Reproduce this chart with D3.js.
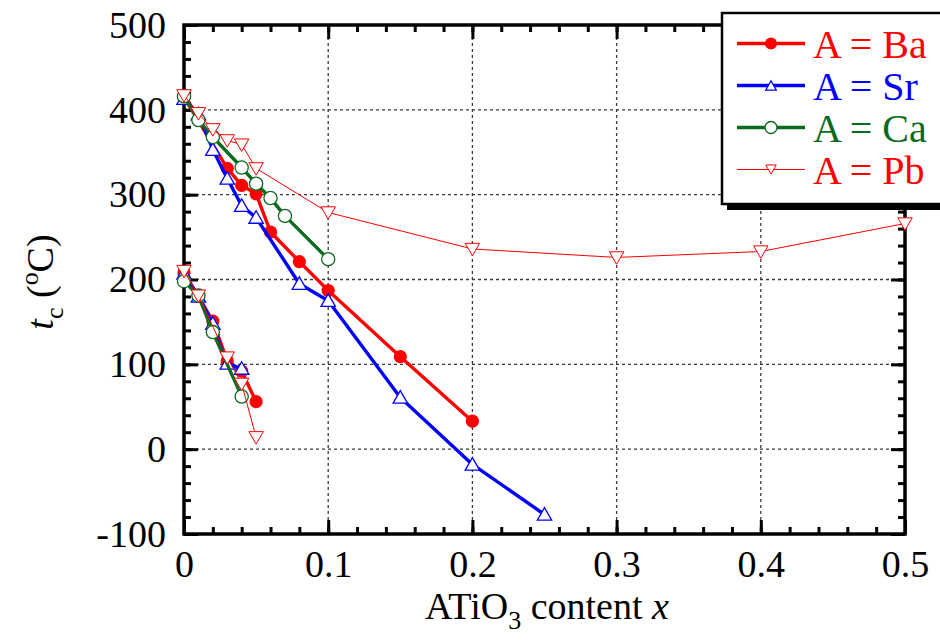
<!DOCTYPE html>
<html>
<head>
<meta charset="utf-8">
<script src="https://cdn.jsdelivr.net/npm/d3@7/dist/d3.min.js"></script>
<style>
  body { margin: 0; background: #fff; }
  svg { display: block; }
  svg text { font-family: "Liberation Serif", "Tinos", "DejaVu Serif", serif !important; }
</style>
</head>
<body>
<svg id="chart" width="940" height="643"></svg>
<script>
// Axis ticks
const xMajor = [0, 0.1, 0.2, 0.3, 0.4, 0.5];
const yMajor = [-100, 0, 100, 200, 300, 400, 500];
const xGrid = [0.1, 0.2, 0.3, 0.4];
const yGrid = [0, 100, 200, 300, 400];

// Series names (legend order)
const seriesNames = ["A = Ba", "A = Sr", "A = Ca", "A = Pb"];

// Curie temperature t_c (°C) vs ATiO3 content x, two branches per substituent
const baHigh = [[0, 415], [0.03, 331], [0.04, 311], [0.05, 301], [0.06, 256], [0.08, 221], [0.1, 187], [0.15, 109], [0.2, 33]];
const baLow  = [[0, 208], [0.01, 180], [0.02, 151], [0.03, 104], [0.04, 92], [0.05, 56]];

const srHigh = [[0, 413], [0.01, 395], [0.02, 353], [0.03, 319], [0.04, 287], [0.05, 273], [0.08, 195], [0.1, 175], [0.15, 61], [0.2, -18], [0.25, -77]];
const srLow  = [[0, 207], [0.01, 180], [0.02, 148], [0.03, 101], [0.04, 95]];

const caHigh = [[0, 416], [0.01, 388], [0.02, 368], [0.04, 332], [0.05, 313], [0.06, 296], [0.07, 275], [0.1, 224]];
const caLow  = [[0, 198], [0.01, 181], [0.02, 138], [0.04, 62]];

const pbHigh = [[0, 417], [0.01, 396], [0.02, 377], [0.03, 364], [0.04, 359], [0.05, 331], [0.1, 279], [0.2, 236], [0.3, 226], [0.4, 233], [0.5, 266]];
const pbLow  = [[0, 210], [0.01, 181], [0.03, 108], [0.04, 77], [0.05, 14]];

const RED = "#ff0000", BLUE = "#0000ff", GREEN = "#0a6a1e";

const series = [
  { name: seriesNames[0], branches: [baHigh, baLow], color: RED,   width: 3.4, marker: "dot" },
  { name: seriesNames[1], branches: [srHigh, srLow], color: BLUE,  width: 3.4, marker: "tri" },
  { name: seriesNames[2], branches: [caHigh, caLow], color: GREEN, width: 3.4, marker: "ring" },
  { name: seriesNames[3], branches: [pbHigh, pbLow], color: RED,   width: 1,   marker: "dtri" }
];

const svg = d3.select("#chart");
const L = 184, R = 905, T = 25, B = 534;
const x = d3.scaleLinear().domain([0, 0.5]).range([L, R]);
const y = d3.scaleLinear().domain([-100, 500]).range([B, T]);

// dashed grid
const grid = svg.append("g");
grid.selectAll(".gx").data(xGrid).join("line")
  .attr("x1", d => x(d)).attr("x2", d => x(d))
  .attr("y1", T).attr("y2", B)
  .attr("stroke", "#3a3a3a").attr("stroke-width", 1.3).attr("stroke-dasharray", "3,3");
grid.selectAll(".gy").data(yGrid).join("line")
  .attr("x1", L).attr("x2", R)
  .attr("y1", d => y(d)).attr("y2", d => y(d))
  .attr("stroke", "#3a3a3a").attr("stroke-width", 1.3).attr("stroke-dasharray", "3,3");

// axes with inward ticks on all four sides
const xMinor = d3.range(0, 0.5001, 0.02).map(v => +v.toFixed(2));
const yMinor = d3.range(-100, 500.1, 20);
const tickStyle = g => {
  g.select(".domain").remove();
  g.attr("font-family", null);
  g.selectAll(".tick line").attr("stroke", "#000").attr("stroke-width", 3);
  g.selectAll("text").attr("font-size", 38).attr("fill", "#000");
};

svg.append("g").attr("transform", `translate(0,${B})`)
  .call(d3.axisBottom(x).tickValues(xMinor).tickSize(-7).tickFormat(""))
  .call(tickStyle);
svg.append("g").attr("transform", `translate(0,${B})`)
  .call(d3.axisBottom(x).tickValues(xMajor).tickSize(-14).tickPadding(16).tickFormat(d => d === 0 ? "0" : d.toFixed(1)))
  .call(tickStyle);
svg.append("g").attr("transform", `translate(0,${T})`)
  .call(d3.axisTop(x).tickValues(xMinor).tickSize(-7).tickFormat(""))
  .call(tickStyle);
svg.append("g").attr("transform", `translate(0,${T})`)
  .call(d3.axisTop(x).tickValues(xMajor).tickSize(-14).tickFormat(""))
  .call(tickStyle);
svg.append("g").attr("transform", `translate(${L},0)`)
  .call(d3.axisLeft(y).tickValues(yMinor).tickSize(-7).tickFormat(""))
  .call(tickStyle);
svg.append("g").attr("transform", `translate(${L},0)`)
  .call(d3.axisLeft(y).tickValues(yMajor).tickSize(-14).tickPadding(18).tickFormat(d => String(d)))
  .call(tickStyle);
svg.append("g").attr("transform", `translate(${R},0)`)
  .call(d3.axisRight(y).tickValues(yMinor).tickSize(-7).tickFormat(""))
  .call(tickStyle);
svg.append("g").attr("transform", `translate(${R},0)`)
  .call(d3.axisRight(y).tickValues(yMajor).tickSize(-14).tickFormat(""))
  .call(tickStyle);

// frame
svg.append("rect").attr("x", L).attr("y", T).attr("width", R - L).attr("height", B - T)
  .attr("fill", "none").attr("stroke", "#000").attr("stroke-width", 3.5);

// markers: r = circle radius, t = triangle area
const triUp = d3.symbol().type(d3.symbolTriangle);
function drawMarker(sel, kind, color, r, t) {
  if (kind === "dot") {
    sel.append("circle").attr("r", r).attr("fill", color);
  } else if (kind === "ring") {
    sel.append("circle").attr("r", r).attr("fill", "#fff")
      .attr("stroke", color).attr("stroke-width", 1.3);
  } else if (kind === "tri") {
    sel.append("path").attr("d", triUp.size(t)()).attr("transform", "translate(0,1.5)")
      .attr("fill", "#fff").attr("stroke", color).attr("stroke-width", 1.3);
  } else {
    sel.append("path").attr("d", triUp.size(t)()).attr("transform", "translate(0,-1.5) rotate(180)")
      .attr("fill", "#fff").attr("stroke", color).attr("stroke-width", 1);
  }
}

const line = d3.line().x(d => x(d[0])).y(d => y(d[1]));
series.forEach(s => {
  const g = svg.append("g");
  s.branches.forEach(br => {
    g.append("path").datum(br).attr("d", line)
      .attr("fill", "none").attr("stroke", s.color).attr("stroke-width", s.width)
      .attr("stroke-linejoin", "round");
  });
  s.branches.forEach(br => {
    g.selectAll(null).data(br).join("g")
      .attr("transform", d => `translate(${x(d[0])},${y(d[1])})`)
      .each(function () { drawMarker(d3.select(this), s.marker, s.color, 6.6, 90); });
  });
});

// legend box with drop shadow
const lg = svg.append("g").attr("transform", "translate(722,13)");
lg.append("rect").attr("x", 5).attr("y", 6).attr("width", 230).attr("height", 191).attr("fill", "#000");
lg.append("rect").attr("x", 0).attr("y", 0).attr("width", 230).attr("height", 191)
  .attr("fill", "#fff").attr("stroke", "#000").attr("stroke-width", 2.5);
series.forEach((s, i) => {
  const cy = 30.5 + i * 42;
  lg.append("line").attr("x1", 15).attr("x2", 83).attr("y1", cy).attr("y2", cy)
    .attr("stroke", s.color).attr("stroke-width", s.width);
  const m = lg.append("g").attr("transform", `translate(49,${cy})`);
  drawMarker(m, s.marker, s.color, 6, 48);
  lg.append("text").attr("x", 91).attr("y", cy + 14).attr("font-size", 40)
    .attr("fill", s.color).text(s.name);
});

// axis titles
const xt = svg.append("text").attr("x", 547).attr("y", 619).attr("font-size", 38)
  .attr("text-anchor", "middle").attr("fill", "#000");
xt.append("tspan").text("ATiO");
xt.append("tspan").attr("font-size", 26).attr("dy", 10).text("3");
xt.append("tspan").attr("dy", -10).text(" content ");
xt.append("tspan").attr("font-style", "italic").text("x");

const yt = svg.append("text").attr("transform", "translate(53,282) rotate(-90)")
  .attr("font-size", 38).attr("text-anchor", "middle").attr("fill", "#000");
yt.append("tspan").attr("font-style", "italic").text("t");
yt.append("tspan").attr("font-size", 26).attr("dy", 10).text("c");
yt.append("tspan").attr("dy", -10).text(" (");
yt.append("tspan").attr("font-size", 26).attr("dy", -15).text("o");
yt.append("tspan").attr("dy", 15).text("C)");
</script>
</body>
</html>
